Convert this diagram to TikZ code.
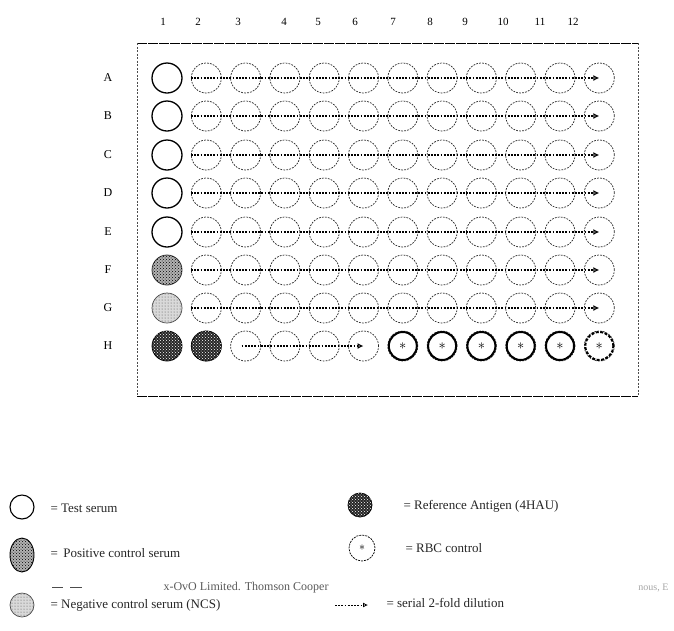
\documentclass[tikz,border=0pt]{standalone}
\usepackage{fontspec}
\setmainfont{Liberation Serif}
\usetikzlibrary{arrows.meta,patterns,shapes.geometric}
\begin{document}
\begin{tikzpicture}[x=1pt,y=-1pt,
  well/.style={circle,draw=black!85,dash pattern=on 1.8pt off 1.2pt,line width=0.7pt,minimum size=30pt,inner sep=0pt},
  testwell/.style={circle,draw=black,line width=1.3pt,minimum size=30pt,inner sep=0pt},
  rbcwell/.style={circle,draw=black,line width=2pt,minimum size=28pt,inner sep=0pt,font=\fontsize{14}{14}\selectfont},
  poswell/.style={circle,draw=black!80,line width=0.8pt,fill=gray!60,minimum size=30pt,inner sep=0pt,
     postaction={pattern=crosshatch dots,pattern color=black}},
  negwell/.style={circle,draw=black!70,line width=0.7pt,fill=gray!30,minimum size=30pt,inner sep=0pt,
     postaction={pattern=dots,pattern color=black!70}},
  refwell/.style={circle,draw=black,line width=0.8pt,fill=black!85,minimum size=30pt,inner sep=0pt,
     postaction={pattern=crosshatch dots,pattern color=white}},
  dil/.style={dash pattern=on 1.8pt off 1.4pt,line width=1.1pt,-{Latex[open,length=6pt,width=6pt]}},
  colnum/.style={font=\fontsize{11}{11}\selectfont},
  rowlab/.style={font=\fontsize{12}{12}\selectfont},
  legtext/.style={anchor=west,font=\fontsize{13}{13}\selectfont,text=black!85},
  frameh/.style={line width=0.8pt,dash pattern=on 10pt off 1pt},
  framev/.style={line width=0.5pt,black!70,dash pattern=on 2pt off 1.5pt}
]
\useasboundingbox (0,0) rectangle (674,630);

% plate frame
\coordinate (ftl) at (137,43);
\coordinate (ftr) at (638,43);
\coordinate (fbl) at (137,396);
\coordinate (fbr) at (638,396);
\draw[frameh] (ftl) -- (ftr);
\draw[frameh] (fbl) -- (fbr);
\draw[framev] (ftl) -- (fbl);
\draw[framev] (ftr) -- (fbr);

% column numbers
\foreach \n/\x in {1/163,2/198,3/238,4/284,5/318,6/355,7/393,8/430,9/465,10/503,11/540,12/573}
  \node[colnum] (c\n) at (\x,22) {\n};

% row labels
\foreach \r/\y in {A/78,B/116,C/155,D/193,E/232,F/270,G/308,H/346}
  \node[rowlab] (r\r) at (108,\y) {\r};

% wells
\foreach \r/\y in {A/78,B/116,C/155,D/193,E/232,F/270,G/308,H/346}{
  \foreach \c in {2,...,12}{
    \pgfmathsetmacro{\xx}{167+(\c-1)*39.3}
    \node[well] (\r\c) at (\xx,\y) {};
  }
}
\foreach \r/\y in {A/78,B/116,C/155,D/193,E/232}
  \node[testwell] (\r1) at (167,\y) {};
\node[poswell] (F1) at (167,270) {};
\node[negwell] (G1) at (167,308) {};
\node[refwell] (H1) at (167,346) {};
\node[refwell] (H2) at (206.3,346) {};
\foreach \c in {7,...,11}{
  \pgfmathsetmacro{\xx}{167+(\c-1)*39.3}
  \node[rbcwell,fill=white] (H\c) at (\xx,346) {$\ast$};
}
\node[rbcwell,fill=white,dash pattern=on 3pt off 1.5pt] (H12) at (599.3,346) {$\ast$};

% serial dilutions
\foreach \r in {A,B,C,D,E,F,G}
  \draw[dil] (\r2.west) -- (\r12.center);
\draw[dil] ([xshift=-4pt]H3.center) -- (H6.center);

% legend
\node[circle,draw=black,line width=1.1pt,minimum size=24pt,inner sep=0pt] (kt) at (22,507) {};
\node[legtext] (ktt) at (47,508) {= Test serum};

\node[refwell,minimum size=24pt] (kr) at (360,505) {};
\node[legtext] (krt) at (400,506) {= Reference Antigen (4HAU)};

\node[ellipse,draw=black,line width=0.9pt,fill=gray!60,minimum width=24pt,minimum height=34pt,inner sep=0pt,
      postaction={pattern=crosshatch dots,pattern color=black}] (kp) at (22,555) {};
\node[legtext] (kpt) at (47,553) {= \,Positive control serum};

\node[circle,draw=black,dash pattern=on 2pt off 1pt,line width=0.7pt,minimum size=26pt,inner sep=0pt,
      font=\fontsize{13}{13}\selectfont] (kb) at (362,548) {$\ast$};
\node[legtext] (kbt) at (402,548) {= RBC control};

\coordinate (d1a) at (52,587);
\coordinate (d1b) at (63,587);
\coordinate (d2a) at (70,587);
\coordinate (d2b) at (82,587);
\draw[line width=0.8pt,black!70] (d1a) -- (d1b);
\draw[line width=0.8pt,black!70] (d2a) -- (d2b);
\node[anchor=west,font=\fontsize{12}{12}\selectfont,text=black!65] (kx) at (160,588) {x-OvO Limited. Thomson Cooper};
\node[anchor=east,font=\fontsize{10}{10}\selectfont,text=black!35] (kxe) at (672,588) {nous, E};

\node[negwell,minimum size=24pt] (kn) at (22,605) {};
\node[legtext] (knt) at (47,605) {= Negative control serum (NCS)};

\coordinate (ka1) at (335,605);
\coordinate (ka2) at (368,605);
\draw[dil,line width=0.8pt,-{Latex[open,length=5pt,width=5pt]}] (ka1) -- (ka2);
\node[legtext] (kat) at (383,603) {= serial 2-fold dilution};
\end{tikzpicture}
\end{document}
